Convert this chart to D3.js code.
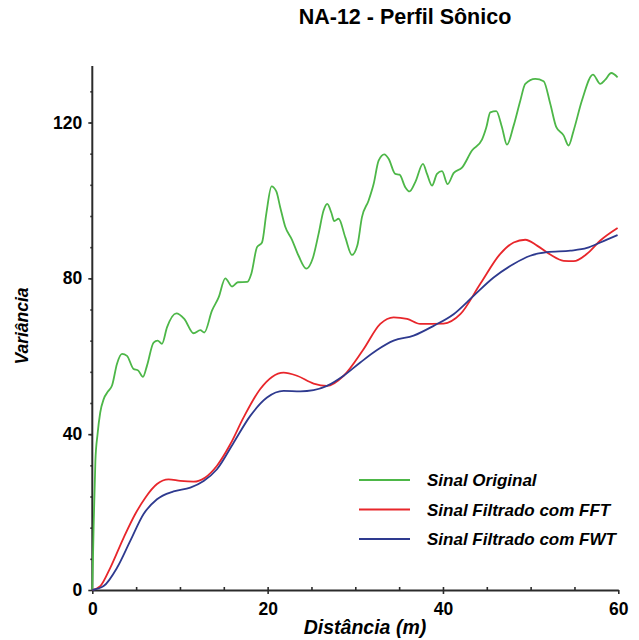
<!DOCTYPE html>
<html>
	<head>
		<meta charset="utf-8">
		<title>NA-12 - Perfil Sônico</title>
		<script type="text/javascript" src="https://d3js.org/d3.v7.min.js"></script>
		<style>
			body {
				margin: 0;
				background: #fff;
			}
			text {
				font-family: "Liberation Sans", Arial, sans-serif;
				fill: #000;
			}
		</style>
	</head>
	<body>
		<div id="chart"></div>
		<script>
			//Distance (m) and variance
			var origX = [0, 0.15, 0.35, 0.6, 0.9, 1.3, 1.8, 2.25, 2.82, 3.39, 3.96, 4.68, 5.25, 5.78, 6.24, 6.99, 7.45, 7.95, 8.52, 9.58, 10.49,
				11.56, 12.32, 12.78, 13.65, 14.41, 15.17, 15.94, 16.6, 17.68, 18.14, 18.79, 19.36, 19.85, 20.45, 20.99, 21.44, 22.0, 22.78, 23.53, 24.41,
				25.17, 25.81, 26.38, 26.8, 27.26, 27.6, 28.1, 28.86, 29.62, 30.23, 30.76, 31.52, 32.09, 32.66, 33.31, 33.8, 34.56, 35.05, 35.7, 36.19,
				36.84, 37.72, 38.18, 38.75, 39.32, 39.89, 40.53, 41.21, 42.17, 43.31, 44.45, 44.94, 45.4, 46.08, 46.73, 47.3, 48.06, 48.82, 49.39, 50.53,
				51.48, 52.24, 52.93, 53.76, 54.33, 54.9, 55.86, 57.11, 57.95, 58.52, 59.2, 59.92];
			var origY = [0, 16, 33, 40, 45.5, 49, 51, 52.5, 58.1, 60.6, 60.1, 56.8, 56.3, 54.7, 57.6, 63.5, 64.0, 63.2, 67.4, 71.0, 69.6,
				65.9, 66.7, 66.1, 71.7, 75.1, 80.0, 77.9, 79.0, 79.1, 81.2, 88.0, 89.2, 96.6, 103.6, 102.3, 98.2, 93.3, 89.9, 85.8, 82.5,
				85.3, 91.4, 97.4, 99.1, 96.9, 94.7, 95.3, 90.5, 86.0, 88.4, 95.7, 100.0, 104.2, 110.2, 111.8, 110.7, 106.8, 106.6, 103.4, 102.3,
				104.7, 109.4, 106.8, 103.8, 106.8, 107.5, 104.2, 107.0, 108.4, 112.8, 115.6, 118.7, 122.6, 122.9, 118.8, 114.3, 119.2, 125.6, 129.9, 131.2,
				130.6, 124.8, 118.8, 116.7, 114.1, 117.9, 125.7, 132.3, 129.9, 131.0, 132.7, 131.6];

			var fftX = [0, 0.91, 2.05, 3.57, 4.9, 6.05, 7.38, 8.7, 10.04, 11.56, 12.89, 14.22, 15.74, 17.26, 19.16, 20.5, 21.82, 23.35, 25.24, 26.77,
				28.67, 30.88, 32.85, 34.37, 35.9, 37.41, 40.07, 41.98, 44.26, 46.54, 48.06, 49.39, 50.73, 52.24, 53.76, 54.9, 56.43, 57.95, 59.92];
			var fftY = [0, 1.0, 5.7, 13.4, 19.5, 23.7, 27.2, 28.4, 28.0, 27.8, 28.9, 31.9, 37.4, 44.3, 51.6, 54.7, 55.8, 55.0, 53.0, 52.4,
				55.0, 61.6, 68.3, 70.0, 69.6, 68.3, 68.4, 70.8, 78.6, 86.3, 89.2, 89.9, 88.4, 86.1, 84.5, 84.4, 86.3, 89.7, 92.9];

			var fwtX = [0, 1.29, 2.82, 4.33, 5.85, 7.38, 9.27, 11.18, 12.7, 14.22, 16.12, 18.02, 19.93, 21.82, 23.73, 25.24, 26.77, 28.67, 30.57, 32.48,
				34.37, 36.65, 38.93, 41.21, 43.49, 45.78, 48.06, 49.96, 51.87, 54.53, 56.43, 57.95, 59.92];
			var fwtY = [0, 1.0, 5.7, 12.6, 19.5, 23.3, 25.3, 26.3, 28.0, 31.0, 37.8, 44.7, 49.4, 51.1, 51.0, 51.3, 52.4, 55.0, 58.4, 61.6,
				64.0, 65.3, 67.8, 70.8, 75.5, 80.2, 83.7, 85.8, 86.7, 87.1, 87.8, 89.2, 91.1];

			var seriesNames = ["Sinal Original", "Sinal Filtrado com FFT", "Sinal Filtrado com FWT"];
			var seriesColors = ["#4db748", "#e8262b", "#2e3a8f"];

			var xTicks = [0, 20, 40, 60];
			var yTicks = [0, 40, 80, 120];

			//Canvas dimensions
			var canvasWidth = 639;
			var canvasHeight = 640;

			var canvas = d3.select("#chart").append("svg")
				.attr("width", canvasWidth)
				.attr("height", canvasHeight);

			var x = d3.scaleLinear().domain([0, 60]).range([92.3, 618.3]);
			var y = d3.scaleLinear().domain([0, 120]).range([590, 122.5]);

			//Title
			canvas.append("text")
				.text("NA-12 - Perfil Sônico")
				.attr("x", 405).attr("y", 24)
				.attr("text-anchor", "middle")
				.style("font-size", "21.5px").style("font-weight", "bold");

			//Minor ticks first, so the main axes draw over them
			canvas.append("g").attr("transform", "translate(0,590)")
				.call(d3.axisBottom(x).tickValues(d3.range(5, 60, 5)).tickSize(-3).tickSizeOuter(0).tickFormat(""))
				.call(function (g) { g.select(".domain").remove(); });
			canvas.append("g").attr("transform", "translate(92.3,0)")
				.call(d3.axisLeft(y).tickValues(d3.range(8, 135, 8)).tickSize(2).tickSizeOuter(0).tickFormat(""))
				.call(function (g) { g.select(".domain").remove(); });

			var axisX = canvas.append("g").attr("transform", "translate(0,590)")
				.call(d3.axisBottom(x).tickValues(xTicks).tickSize(4).tickSizeOuter(0).tickPadding(9));
			var axisY = canvas.append("g").attr("transform", "translate(92.3,0)")
				.call(d3.axisLeft(y).tickValues(yTicks).tickSize(4).tickSizeOuter(0).tickPadding(6));
			//extend y axis line above 120
			axisY.select(".domain").attr("d", "M0," + y(0) + "V" + y(134.5));

			canvas.selectAll(".domain").attr("stroke", "#2b2b2b").attr("stroke-width", 2);
			canvas.selectAll(".tick line").attr("stroke", "#2b2b2b").attr("stroke-width", 1.6);
			canvas.selectAll(".tick text")
				.style("font-family", "'Liberation Sans', Arial, sans-serif")
				.style("font-size", "17.5px").style("font-weight", "bold").attr("fill", "#111");

			//Axis titles
			canvas.append("text")
				.text("Distância (m)")
				.attr("x", 365).attr("y", 634)
				.attr("text-anchor", "middle")
				.style("font-size", "19.5px").style("font-weight", "bold").style("font-style", "italic");
			canvas.append("text")
				.text("Variância")
				.attr("transform", "translate(28,326) rotate(-90)")
				.attr("text-anchor", "middle")
				.style("font-size", "17.5px").style("font-weight", "bold").style("font-style", "italic");

			//Lines
			var line = d3.line()
				.x(function (d) { return x(d[0]); })
				.y(function (d) { return y(d[1]); })
				.curve(d3.curveMonotoneX);

			var seriesData = [
				d3.zip(origX, origY),
				d3.zip(fftX, fftY),
				d3.zip(fwtX, fwtY)
			];

			canvas.selectAll("path.serie").data(seriesData).enter()
				.append("path")
				.attr("class", "serie")
				.attr("d", line)
				.attr("fill", "none")
				.attr("stroke", function (d, i) { return seriesColors[i]; })
				.attr("stroke-width", 1.8);

			//Legend
			var legend = canvas.selectAll("g.legend").data(seriesNames).enter()
				.append("g")
				.attr("class", "legend")
				.attr("transform", function (d, i) { return "translate(359," + (480 + i * 29.5) + ")"; });
			legend.append("line")
				.attr("x1", 0).attr("x2", 51)
				.attr("stroke", function (d, i) { return seriesColors[i]; })
				.attr("stroke-width", 1.8);
			legend.append("text")
				.text(function (d) { return d; })
				.attr("x", 68).attr("y", 6)
				.style("font-size", "17px").style("font-weight", "bold").style("font-style", "italic");
		</script>
	</body>
</html>
